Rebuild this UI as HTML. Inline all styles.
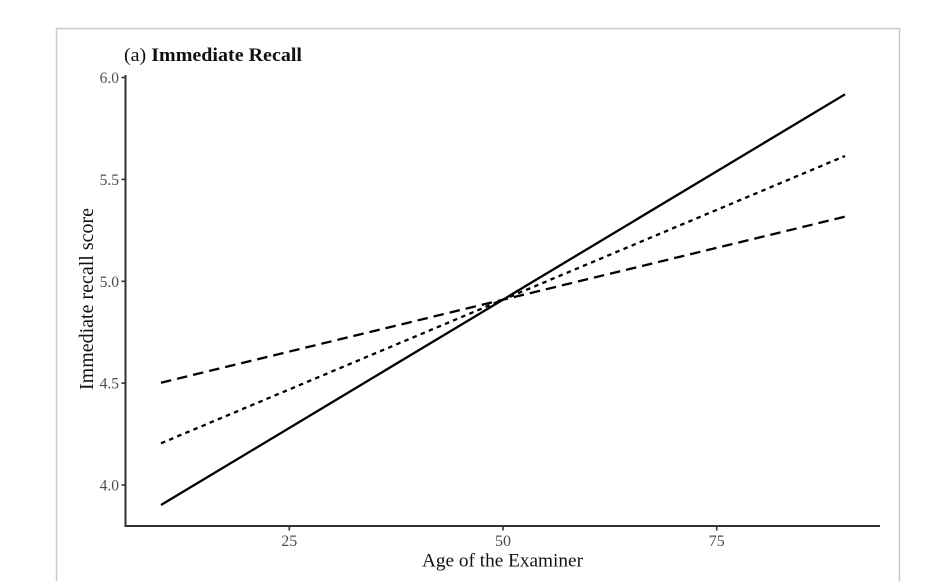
<!DOCTYPE html>
<html>
<head>
<meta charset="utf-8">
<style>
  html, body { margin: 0; padding: 0; background: #ffffff; }
  svg { display: block; }
  text { font-family: "Liberation Serif", "Times New Roman", serif; }
</style>
</head>
<body>
<svg width="945" height="581" viewBox="0 0 945 581" xmlns="http://www.w3.org/2000/svg">
  <rect x="0" y="0" width="945" height="581" fill="#ffffff"/>
  <!-- outer frame -->
  <path d="M56.5 590 L56.5 28.5 L899.5 28.5 L899.5 590" fill="none" stroke="#c9c9c9" stroke-width="1.5"/>

  <!-- title -->
  <text x="124" y="61" font-size="19" fill="#111" textLength="178" lengthAdjust="spacingAndGlyphs">(a) <tspan font-weight="bold">Immediate Recall</tspan></text>

  <!-- axes -->
  <line x1="125.5" y1="75" x2="125.5" y2="527" stroke="#333" stroke-width="2"/>
  <line x1="124.5" y1="526" x2="880" y2="526" stroke="#333" stroke-width="2"/>

  <!-- y ticks -->
  <g stroke="#333" stroke-width="1.6">
    <line x1="121.5" y1="77.5" x2="125" y2="77.5"/>
    <line x1="121.5" y1="179.4" x2="125" y2="179.4"/>
    <line x1="121.5" y1="281.3" x2="125" y2="281.3"/>
    <line x1="121.5" y1="383.1" x2="125" y2="383.1"/>
    <line x1="121.5" y1="485" x2="125" y2="485"/>
  </g>
  <g font-size="15.5" fill="#4d4d4d" text-anchor="end">
    <text x="119" y="83">6.0</text>
    <text x="119" y="184.9">5.5</text>
    <text x="119" y="286.8">5.0</text>
    <text x="119" y="388.6">4.5</text>
    <text x="119" y="490.5">4.0</text>
  </g>

  <!-- x ticks -->
  <g stroke="#333" stroke-width="1.6">
    <line x1="289.3" y1="526" x2="289.3" y2="530.5"/>
    <line x1="503" y1="526" x2="503" y2="530.5"/>
    <line x1="716.7" y1="526" x2="716.7" y2="530.5"/>
  </g>
  <g font-size="16" fill="#4d4d4d" text-anchor="middle">
    <text x="289.3" y="546">25</text>
    <text x="503" y="546">50</text>
    <text x="716.7" y="546">75</text>
  </g>

  <!-- axis titles -->
  <text x="502.5" y="566.5" font-size="19" fill="#111" text-anchor="middle" textLength="161" lengthAdjust="spacingAndGlyphs">Age of the Examiner</text>
  <text transform="translate(93,299) rotate(-90)" x="0" y="0" font-size="19.5" fill="#111" text-anchor="middle" textLength="182" lengthAdjust="spacingAndGlyphs">Immediate recall score</text>

  <!-- series -->
  <line x1="161" y1="505" x2="845" y2="94.3" stroke="#000" stroke-width="2.3"/>
  <line x1="161" y1="443.3" x2="845" y2="156" stroke="#000" stroke-width="2.3" stroke-dasharray="4.5 4.3"/>
  <line x1="161" y1="382.7" x2="845" y2="216.7" stroke="#000" stroke-width="2.3" stroke-dasharray="10.5 6"/>
</svg>
</body>
</html>
